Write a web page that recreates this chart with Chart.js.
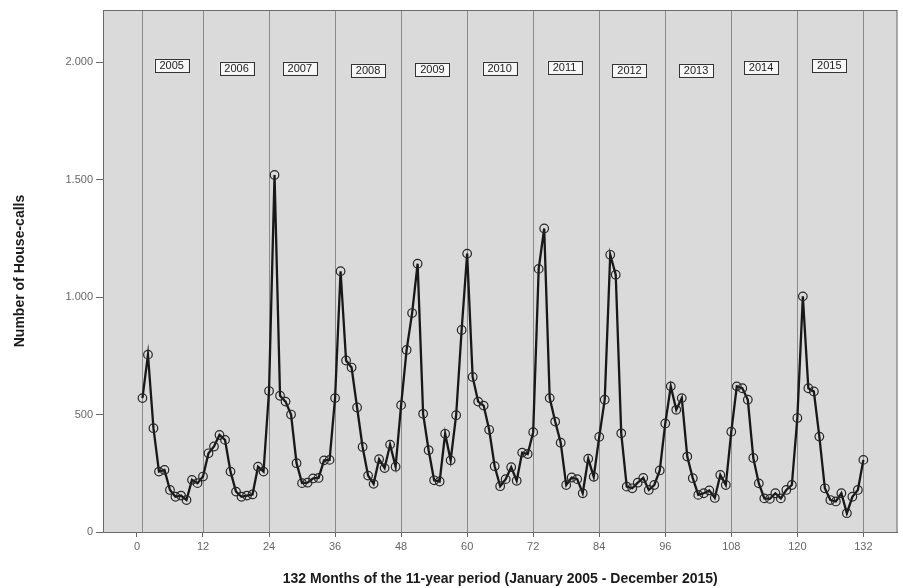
<!DOCTYPE html>
<html>
<head>
<meta charset="utf-8">
<script src="https://cdn.jsdelivr.net/npm/chart.js@4/dist/chart.umd.min.js"></script>
<style>
  html, body { margin: 0; padding: 0; background: #fff; overflow: hidden; }
  #wrap { width: 903px; height: 588px; }
  canvas { display: block; }
</style>
</head>
<body>
<div id="wrap"><canvas id="myChart" width="903" height="588"></canvas></div>
<script>
// monthly house-calls, Jan 2005 .. Dec 2015 (month 1..132)
var calls2005 = [570, 755, 442, 257, 264, 179, 150, 155, 136, 222, 208, 236];
var calls2006 = [335, 364, 413, 392, 257, 172, 150, 155, 160, 278, 257, 600];
var calls2007 = [1520, 580, 555, 500, 293, 208, 210, 228, 230, 305, 307, 570];
var calls2008 = [1110, 730, 700, 530, 362, 240, 205, 310, 272, 372, 278, 540];
var calls2009 = [775, 932, 1142, 503, 348, 220, 215, 418, 305, 497, 860, 1185];
var calls2010 = [660, 555, 538, 435, 280, 195, 225, 276, 218, 338, 332, 425];
var calls2011 = [1120, 1292, 570, 470, 380, 200, 232, 225, 165, 312, 235, 405];
var calls2012 = [563, 1180, 1095, 420, 193, 186, 210, 230, 179, 200, 262, 462];
var calls2013 = [620, 520, 570, 321, 229, 158, 165, 177, 145, 243, 200, 427];
var calls2014 = [620, 612, 563, 315, 207, 143, 141, 165, 143, 179, 200, 485];
var calls2015 = [1003, 612, 598, 406, 186, 136, 130, 165, 80, 150, 179, 307];

var xTicks = [0, 12, 24, 36, 48, 60, 72, 84, 96, 108, 120, 132];
var yTicks = [0, 500, 1000, 1500, 2000];
var refLines = [1, 12, 24, 36, 48, 60, 72, 84, 96, 108, 120, 132];

var years = ['2005', '2006', '2007', '2008', '2009', '2010', '2011', '2012', '2013', '2014', '2015'];
var yearLabelX = [6.3, 18.1, 29.6, 42, 53.7, 65.9, 77.7, 89.5, 101.6, 113.4, 125.8];
var yearLabelY = [1986, 1974, 1974, 1965, 1969, 1974, 1978, 1965, 1965, 1978, 1986];

var allCalls = [].concat(calls2005, calls2006, calls2007, calls2008, calls2009, calls2010,
                         calls2011, calls2012, calls2013, calls2014, calls2015);
var points = allCalls.map(function (v, i) { return { x: i + 1, y: v }; });

var FONT = '"Liberation Sans", Arial, sans-serif';

var plotDeco = {
  id: 'plotDeco',
  beforeDatasetsDraw: function (chart) {
    var ctx = chart.ctx, a = chart.chartArea;
    var xs = chart.scales.x;
    ctx.save();
    ctx.fillStyle = '#dadada';
    ctx.fillRect(a.left, a.top, a.right - a.left, a.bottom - a.top);
    // reference lines
    ctx.strokeStyle = '#8a8a8a';
    ctx.lineWidth = 1;
    refLines.forEach(function (m) {
      var px = Math.round(xs.getPixelForValue(m)) + 0.5;
      ctx.beginPath();
      ctx.moveTo(px, a.top);
      ctx.lineTo(px, a.bottom);
      ctx.stroke();
    });
    ctx.strokeStyle = '#6a6a6a';
    ctx.strokeRect(a.left + 0.5, a.top + 0.5, a.right - a.left - 1, a.bottom - a.top);
    ctx.restore();
  },
  afterDatasetsDraw: function (chart) {
    var ctx = chart.ctx;
    var xs = chart.scales.x, ys = chart.scales.y;
    ctx.save();
    ctx.font = '11px ' + FONT;
    ctx.textAlign = 'center';
    ctx.textBaseline = 'middle';
    years.forEach(function (label, i) {
      var cx = xs.getPixelForValue(yearLabelX[i]);
      var cy = ys.getPixelForValue(yearLabelY[i]);
      var w = 34, h = 13;
      ctx.fillStyle = '#f7f7f7';
      ctx.fillRect(cx - w / 2, cy - h / 2, w, h);
      ctx.strokeStyle = '#333';
      ctx.lineWidth = 1;
      ctx.strokeRect(Math.round(cx - w / 2) + 0.5, Math.round(cy - h / 2) + 0.5, w, h);
      ctx.fillStyle = '#222';
      ctx.fillText(label, cx, cy + 0.5);
    });
    ctx.restore();
  }
};

var ctx = document.getElementById('myChart').getContext('2d');
var chart = new Chart(ctx, {
  type: 'line',
  data: {
    datasets: [{
      label: 'House-calls',
      data: points,
      borderColor: '#181818',
      borderWidth: 2.3,
      pointStyle: 'circle',
      pointRadius: 4.3,
      pointBorderWidth: 1.2,
      pointBorderColor: '#262626',
      pointBackgroundColor: 'rgba(0,0,0,0)',
      tension: 0
    }]
  },
  options: {
    responsive: false,
    animation: false,
    layout: { padding: { top: 10, right: 1, left: 12, bottom: 0 } },
    plugins: {
      legend: { display: false },
      tooltip: { enabled: false }
    },
    scales: {
      x: {
        type: 'linear',
        min: -6.17,
        max: 138.2,
        afterBuildTicks: function (s) { s.ticks = xTicks.map(function (v) { return { value: v }; }); },
        afterFit: function (s) { s.height = 56; s.paddingLeft = 0; s.paddingRight = 0; },
        grid: { drawOnChartArea: false, drawTicks: true, tickLength: 5, color: '#666' },
        border: { display: true, color: '#666' },
        ticks: { color: '#666', font: { family: FONT, size: 11 }, padding: 3, maxRotation: 0 },
        title: {
          display: true,
          text: '132 Months of the 11-year period (January 2005 - December 2015)',
          color: '#1a1a1a',
          font: { family: FONT, size: 14, weight: 'bold' },
          padding: { top: 6, bottom: 0 }
        }
      },
      y: {
        min: 0,
        max: 2222,
        afterBuildTicks: function (s) { s.ticks = yTicks.map(function (v) { return { value: v }; }); },
        afterFit: function (s) { s.width = 91; s.paddingTop = 0; s.paddingBottom = 0; },
        grid: { drawOnChartArea: false, drawTicks: true, tickLength: 7, color: '#666' },
        border: { display: true, color: '#666' },
        ticks: {
          color: '#666',
          font: { family: FONT, size: 11 },
          padding: 3,
          callback: function (v) { return String(v).replace(/\B(?=(\d{3})+(?!\d))/g, '.'); }
        },
        title: {
          display: true,
          text: 'Number of House-calls',
          color: '#1a1a1a',
          font: { family: FONT, size: 14, weight: 'bold' },
          padding: { top: 0, bottom: 0 }
        }
      }
    }
  },
  plugins: [plotDeco]
});
</script>
</body>
</html>
